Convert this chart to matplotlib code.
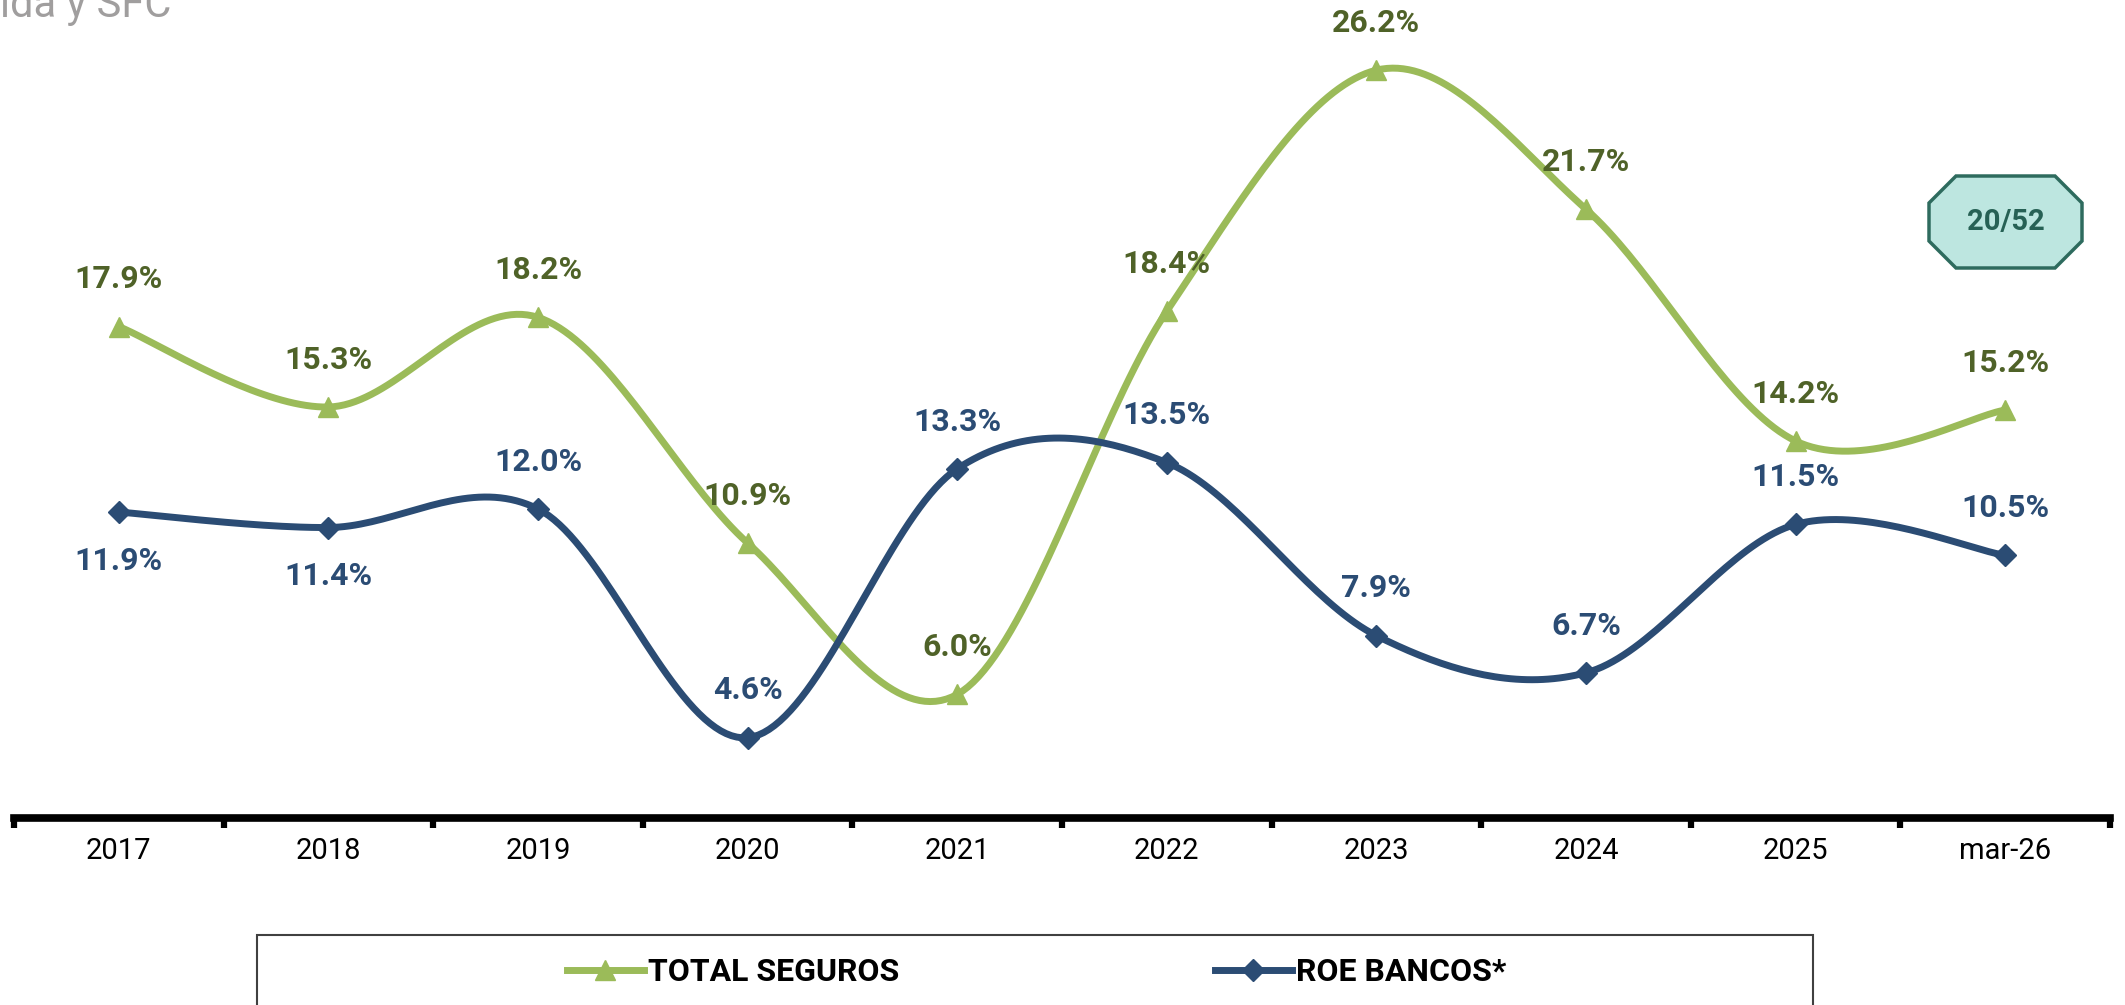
import matplotlib

matplotlib.use("Agg")
import matplotlib.pyplot as plt
import numpy as np
from matplotlib.lines import Line2D
from matplotlib.patches import Polygon, Rectangle

plt.rcParams["font.family"] = ["Roboto", "DejaVu Sans"]

categories = ["2017", "2018", "2019", "2020", "2021", "2022", "2023", "2024", "2025", "mar-26"]
total_seguros = [17.9, 15.3, 18.2, 10.9, 6.0, 18.4, 26.2, 21.7, 14.2, 15.2]
roe_bancos = [11.9, 11.4, 12.0, 4.6, 13.3, 13.5, 7.9, 6.7, 11.5, 10.5]
roe_label_below = [True, True, False, False, False, False, False, False, False, False]

GREEN = "#9BBB59"
GREEN_TXT = "#4F6228"
BLUE = "#2B4C74"
BLUE_TXT = "#2B4C74"

W, H = 2125, 1005


def smooth(xs, ys, n=40):
    # Excel-like smoothed line: cubic bezier with catmull-rom control points
    xs = np.asarray(xs, float)
    ys = np.asarray(ys, float)
    pts = np.column_stack([xs, ys])
    out = []
    for i in range(len(pts) - 1):
        p0 = pts[i - 1] if i > 0 else pts[i]
        p1, p2 = pts[i], pts[i + 1]
        p3 = pts[i + 2] if i + 2 < len(pts) else pts[i + 1]
        c1 = p1 + (p2 - p0) / 6
        c2 = p2 - (p3 - p1) / 6
        t = np.linspace(0, 1, n)[:, None]
        seg = (1 - t) ** 3 * p1 + 3 * (1 - t) ** 2 * t * c1 + 3 * (1 - t) * t ** 2 * c2 + t ** 3 * p2
        out.append(seg if i == 0 else seg[1:])
    seg = np.vstack(out)
    return seg[:, 0], seg[:, 1]


fig = plt.figure(figsize=(W / 100, H / 100), dpi=100)
ax = fig.add_axes([14 / W, 1 - 818 / H, (2110 - 14) / W, 818 / H])
x = np.arange(len(categories))

sx, sy = smooth(x, total_seguros)
ax.plot(sx, sy, color=GREEN, lw=5, solid_capstyle="round", zorder=3)
ax.plot(x, total_seguros, ls="none", marker="^", ms=15, color=GREEN, zorder=4)

bx, by = smooth(x, roe_bancos)
ax.plot(bx, by, color=BLUE, lw=5, solid_capstyle="round", zorder=3)
ax.plot(x, roe_bancos, ls="none", marker="D", ms=11, color=BLUE, zorder=4)

for xi, v in zip(x, total_seguros):
    ax.annotate(f"{v:.1f}%", (xi, v), xytext=(0, 34), textcoords="offset points",
                ha="center", va="center", fontsize=23, fontweight="bold", color=GREEN_TXT, zorder=5)
for xi, v, below in zip(x, roe_bancos, roe_label_below):
    ax.annotate(f"{v:.1f}%", (xi, v), xytext=(0, -35 if below else 34), textcoords="offset points",
                ha="center", va="center", fontsize=23, fontweight="bold", color=BLUE_TXT, zorder=5)

ax.set_xlim(-0.5, len(categories) - 0.5)
ax.set_ylim(2.0, 28.47)
ax.set_xticks(np.arange(len(categories) + 1) - 0.5)
ax.set_xticklabels([])
ax.set_xticks(x, minor=True)
ax.set_xticklabels(categories, minor=True, fontsize=21)
ax.tick_params(axis="x", which="major", direction="out", length=7, width=4.5, color="black")
ax.tick_params(axis="x", which="minor", length=0, pad=14)
ax.set_yticks([])
for side in ["top", "left", "right"]:
    ax.spines[side].set_visible(False)
ax.spines["bottom"].set_linewidth(5.5)
ax.spines["bottom"].set_color("black")
ax.patch.set_visible(False)

# source note, cut at top-left as in the original
fig.text(0, 1 - 17 / H, "ida y SFC", ha="left", va="baseline",
         fontsize=30, color="#A09E9E")

# badge
bx0, bx1, by0, by1, c = 1929, 2082, 176, 268, 27
pts = [(bx0 + c, by0), (bx1 - c, by0), (bx1, by0 + c), (bx1, by1 - c),
       (bx1 - c, by1), (bx0 + c, by1), (bx0, by1 - c), (bx0, by0 + c)]
fig.patches.append(Polygon([(px / W, 1 - py / H) for px, py in pts], closed=True,
                           facecolor="#BDE6E0", edgecolor="#2E6B5E", lw=2.5,
                           transform=fig.transFigure, figure=fig))
fig.text((bx0 + bx1) / 2 / W, 1 - (by0 + by1) / 2 / H, "20/52", ha="center", va="center",
         fontsize=21, fontweight="bold", color="#276155")

# legend box
fig.patches.append(Rectangle((257 / W, -0.05), (1813 - 257) / W, 1 - 935 / H + 0.05,
                             facecolor="white", edgecolor="#404040", lw=1.5,
                             transform=fig.transFigure, figure=fig))
h1 = Line2D([], [], color=GREEN, lw=5, marker="^", ms=15)
h2 = Line2D([], [], color=BLUE, lw=5, marker="D", ms=11)
for h, lab, x0 in [(h1, "TOTAL SEGUROS", 567), (h2, "ROE BANCOS*", 1215)]:
    fig.legend([h], [lab], loc="center left", bbox_to_anchor=(x0 / W, 1 - 972 / H),
               frameon=False, borderpad=0, borderaxespad=0, handlelength=2.4,
               handletextpad=0.15, prop={"weight": "bold", "size": 23})

fig.savefig("out.png", dpi=100)
